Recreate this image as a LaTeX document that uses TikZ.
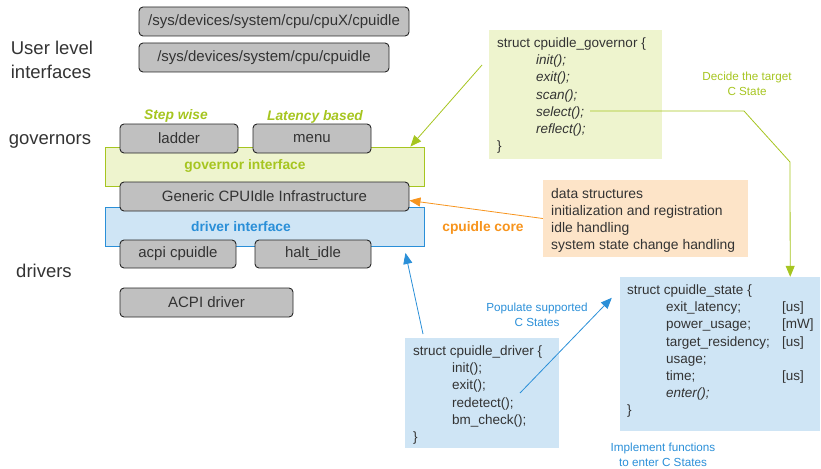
\documentclass[tikz,border=0pt]{standalone}
\usepackage{fontspec}
\setmainfont{Liberation Sans}
\usetikzlibrary{positioning,arrows,arrows.meta,calc}
\definecolor{txt}{HTML}{333333}
\definecolor{boxgray}{HTML}{C0C0C0}
\definecolor{govgreen}{HTML}{A6C520}
\definecolor{govfill}{HTML}{EEF4CE}
\definecolor{drvblue}{HTML}{2A8FD8}
\definecolor{drvfill}{HTML}{CFE5F5}
\definecolor{coreorange}{HTML}{F7941D}
\definecolor{corefill}{HTML}{FDE4C8}
\newcommand{\ind}{\hspace*{39pt}}
\tikzset{
  blk/.style={draw=black!85, fill=boxgray, rounded corners=4pt, line width=0.9pt,
    minimum height=29pt, inner sep=0pt, text=txt, font=\fontsize{15}{18}\selectfont},
  layer/.style={line width=0.9pt, minimum width=319pt, minimum height=39pt},
  panel/.style={minimum width=#1, inner sep=0pt},
  code/.style={anchor=base west, inner sep=0pt, text=txt, font=\fontsize{13.5}{17.2}\selectfont},
  lvl/.style={text=txt, align=left, font=\fontsize{18.5}{24}\selectfont},
  note/.style={align=center, font=\fontsize{11.7}{14.8}\selectfont},
  tag/.style={font=\fontsize{13.8}{16}\selectfont\bfseries},
  link/.style={line width=0.8pt, -{Triangle[length=11pt,width=9pt]}}
}
\begin{document}
\begin{tikzpicture}[x=1pt,y=-1pt]
  \useasboundingbox (0,0) rectangle (821,468);
  % levels
  \node[lvl] (user) at (52,60) {User level\\interfaces};
  \node[lvl] (govs) at (50,141) {governors};
  \node[lvl] (drvs) at (44,271) {drivers};
  % sysfs
  \node[blk, minimum width=270pt] (cpux) at (274,21.5) {/sys/devices/system/cpu/cpuX/cpuidle};
  \node[blk, minimum width=250pt] (cpus) at (264,57.5) {/sys/devices/system/cpu/cpuidle};
  % interfaces
  \node[layer, draw=govgreen, fill=govfill] (govif) at (264.5,166.5) {};
  \node[tag, text=govgreen] (govlbl) at (245,166) {governor interface};
  \node[layer, draw=drvblue, fill=drvfill] (drvif) at (264.5,227) {};
  \node[tag, text=drvblue] (drvlbl) at (241,227) {driver interface};
  % governors
  \node[tag, text=govgreen, font=\fontsize{13.8}{16}\selectfont\bfseries\itshape] (stepw) at (176,116) {Step wise};
  \node[tag, text=govgreen, font=\fontsize{13.8}{16}\selectfont\bfseries\itshape] (latb) at (315,117) {Latency based};
  \node[blk, minimum width=118pt] (ladder) at (179,138.5) {ladder};
  \node[blk, minimum width=118pt] (menu) at (312,138.5) {menu};
  % core and drivers
  \node[blk, minimum width=289pt] (generic) at (264.5,196.5) {Generic CPUIdle Infrastructure};
  \node[blk, minimum width=116pt, minimum height=28pt] (acpi) at (178,254) {acpi cpuidle};
  \node[blk, minimum width=116pt, minimum height=28pt] (halt) at (313,254) {halt\_idle};
  \node[blk, minimum width=173pt] (acpidrv) at (206.5,302.5) {ACPI driver};
  % governor struct
  \node[panel=173pt, fill=govfill, minimum height=129pt] (govbox) at (575.5,94.5) {};
  \node[code] (govtxt) at (497,47.5) {\begin{tabular}[t]{@{}l@{}}
    struct cpuidle\_governor \{\\
    \ind\textit{init();}\\
    \ind\textit{exit();}\\
    \ind\textit{scan();}\\
    \ind\textit{select();}\\
    \ind\textit{reflect();}\\
    \}
  \end{tabular}};
  \node[note, text=govgreen] (decide) at (747,83.5) {Decide the target\\C State};
  % core
  \node[panel=205pt, fill=corefill, minimum height=77pt] (core) at (645.5,218.5) {};
  \node[code, font=\fontsize{13.9}{17.3}\selectfont] (coretxt) at (551,198) {\begin{tabular}[t]{@{}l@{}}
    data structures\\
    initialization and registration\\
    idle handling\\
    system state change handling
  \end{tabular}};
  \node[tag, text=coreorange] (corelbl) at (483,228) {cpuidle core};
  % driver struct
  \node[panel=154pt, fill=drvfill, minimum height=110pt] (drvbox) at (482,393) {};
  \node[code] (drvtxt) at (413,355.5) {\begin{tabular}[t]{@{}l@{}}
    struct cpuidle\_driver \{\\
    \ind init();\\
    \ind exit();\\
    \ind redetect();\\
    \ind bm\_check();\\
    \}
  \end{tabular}};
  \node[note, text=drvblue] (populate) at (537,315) {Populate supported\\C States};
  % state struct
  \node[panel=200pt, fill=drvfill, minimum height=154pt] (statebox) at (720,354) {};
  \node[code] (statetxt) at (627,294.5) {\begin{tabular}[t]{@{}l@{}}
    struct cpuidle\_state \{\\
    \ind\makebox[116pt][l]{exit\_latency;}[us]\\
    \ind\makebox[116pt][l]{power\_usage;}[mW]\\
    \ind\makebox[116pt][l]{target\_residency;}[us]\\
    \ind usage;\\
    \ind\makebox[116pt][l]{time;}[us]\\
    \ind\textit{enter();}\\
    \}
  \end{tabular}};
  \node[note, text=drvblue] (implement) at (663,454.5) {Implement functions\\to enter C States};
  % connectors
  \coordinate (govtail) at (482,65);
  \coordinate (selend) at (590,111);
  \coordinate (drvtail) at (423,334);
  \coordinate (redend) at (520,393);
  \draw[link, govgreen] (govtail) -- ([xshift=-14pt]govif.north east);
  \draw[link, govgreen] (selend) -- (744,111) -- (790,162) -- ([xshift=-30pt]statebox.north east);
  \draw[link, coreorange] (core.west) -- ([yshift=-4pt]generic.east);
  \draw[link, drvblue] (drvtail) -- ([xshift=-19pt,yshift=-6pt]drvif.south east);
  \draw[link, drvblue] (redend) -- ([xshift=-8pt,yshift=-21pt]statebox.north west);
\end{tikzpicture}
\end{document}
